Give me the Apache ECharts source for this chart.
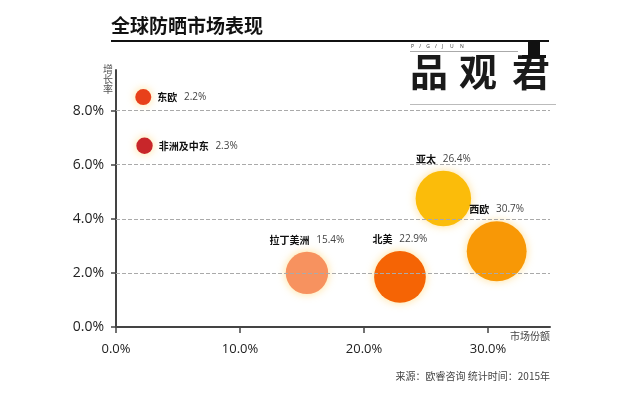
<!DOCTYPE html>
<html>
<head>
<meta charset="utf-8">
<script src="https://cdn.jsdelivr.net/npm/echarts@6/dist/echarts.min.js"></script>
<style>
  html, body { margin: 0; padding: 0; background: #fff; }
  #chart { width: 632px; height: 396px; }
</style>
</head>
<body>
<div id="chart"></div>
<script>
// 全球防晒市场表现 数据
var regions = ['东欧', '非洲及中东', '拉丁美洲', '北美', '亚太', '西欧'];
var shares = [2.2, 2.3, 15.4, 22.9, 26.4, 30.7];   // 市场份额 %
var growth = [8.5, 6.7, 2.0, 1.85, 4.75, 2.8];     // 增长率 %
var xTicks = [0, 10, 20, 30];
var yTicks = [0, 2, 4, 6, 8];

// 样式
var colors = ['#e8401a', '#c8262a', '#f7925f', '#f56405', '#fbbc0a', '#f89806'];
var labelPos = ['right', 'right', 'top', 'top', 'top', 'top'];

var cnFont = '"Noto Sans CJK SC", sans-serif';
var numFont = '"Open Sans", "Noto Sans", sans-serif';

var myChart = echarts.init(document.getElementById('chart'));

var points = [];
for (var i = 0; i < regions.length; i++) {
    points.push({
        name: regions[i],
        value: [shares[i], growth[i]],
        itemStyle: { color: colors[i] },
        label: { position: labelPos[i] }
    });
}

var gridLines = [];
for (var j = 1; j < yTicks.length; j++) {
    gridLines.push({ yAxis: yTicks[j] });
}

// 纵轴名 竖排
var yName = '增长率'.split('');
var nameTexts = [];
for (var k = 0; k < yName.length; k++) {
    nameTexts.push({
        type: 'text', left: 103, top: 64 + k * 10,
        style: { text: yName[k], font: '10px ' + cnFont, fill: '#555' }
    });
}

var option = {
    backgroundColor: '#fff',
    animation: false,
    grid: {
        left: 116,
        right: 82,
        top: 70,
        bottom: 69,
        outerBoundsMode: 'none'
    },
    xAxis: {
        type: 'value',
        min: 0,
        max: 35,
        axisLine: { lineStyle: { color: '#444', width: 2 } },
        axisTick: {
            customValues: xTicks,
            length: 6,
            inside: false,
            lineStyle: { color: '#444', width: 1.5 }
        },
        axisLabel: {
            customValues: xTicks,
            margin: 16,
            fontSize: 13,
            color: '#222',
            fontFamily: numFont,
            formatter: function (v) { return v.toFixed(1) + '%'; }
        },
        splitLine: { show: false }
    },
    yAxis: {
        type: 'value',
        min: 0,
        max: 9.5,
        axisLine: { show: true, lineStyle: { color: '#444', width: 2 } },
        axisTick: {
            show: true,
            customValues: yTicks,
            length: 5,
            lineStyle: { color: '#444', width: 1.5 }
        },
        axisLabel: {
            customValues: yTicks,
            margin: 12,
            fontSize: 14,
            color: '#222',
            fontFamily: numFont,
            formatter: function (v) { return v.toFixed(1) + '%'; }
        },
        splitLine: { show: false }
    },
    graphic: [
        {
            type: 'text', left: 111, top: 16,
            style: { text: '全球防晒市场表现', font: 'bold 19px ' + cnFont, fill: '#111' }
        },
        {
            type: 'rect', shape: { x: 111, y: 40, width: 438, height: 2 },
            style: { fill: '#111' }
        },
        // 品观君 logo
        {
            type: 'text', left: 411, top: 44,
            style: { text: 'P    /    G    /    J     U     N', font: '5px ' + numFont, fill: '#333' }
        },
        {
            type: 'rect', shape: { x: 410, y: 51, width: 108, height: 1 },
            style: { fill: '#aaa' }
        },
        {
            type: 'text', left: 410, top: 53,
            style: { text: '品', font: 'bold 38px ' + cnFont, fill: '#1a1a1a' }
        },
        {
            type: 'text', left: 459, top: 53,
            style: { text: '观', font: 'bold 38px ' + cnFont, fill: '#1a1a1a' }
        },
        {
            type: 'text', left: 512, top: 53,
            style: { text: '君', font: 'bold 38px ' + cnFont, fill: '#1a1a1a' }
        },
        {
            type: 'rect', shape: { x: 528, y: 42, width: 12, height: 13 },
            style: { fill: '#111' }
        },
        {
            type: 'rect', shape: { x: 522, y: 55, width: 24, height: 3 },
            style: { fill: '#111' }
        },
        {
            type: 'rect', shape: { x: 410, y: 104, width: 146, height: 1 },
            style: { fill: '#bbb' }
        },
        {
            type: 'text', right: 82, top: 331,
            style: { text: '市场份额', font: '10px ' + cnFont, fill: '#444' }
        },
        {
            type: 'text', right: 82, top: 371,
            style: { text: '来源：欧睿咨询 统计时间：2015年', font: '10px ' + cnFont, fill: '#444' }
        }
    ].concat(nameTexts),
    series: [{
        type: 'scatter',
        data: points,
        symbolSize: function (val) { return Math.sqrt(val[0]) * 10.8; },
        itemStyle: {
            opacity: 1,
            shadowBlur: 8,
            shadowColor: 'rgba(255, 215, 120, 0.8)'
        },
        label: {
            show: true,
            distance: 6,
            formatter: function (p) {
                return '{n|' + p.name + '}  {v|' + p.value[0].toFixed(1) + '%}';
            },
            rich: {
                n: { fontSize: 10, fontWeight: 'bold', color: '#111', fontFamily: cnFont },
                v: { fontSize: 10, color: '#444', fontFamily: numFont }
            }
        },
        markLine: {
            silent: true,
            symbol: 'none',
            label: { show: false },
            lineStyle: { type: 'dashed', color: '#aaa', width: 1 },
            data: gridLines
        }
    }]
};

myChart.setOption(option);
</script>
</body>
</html>
